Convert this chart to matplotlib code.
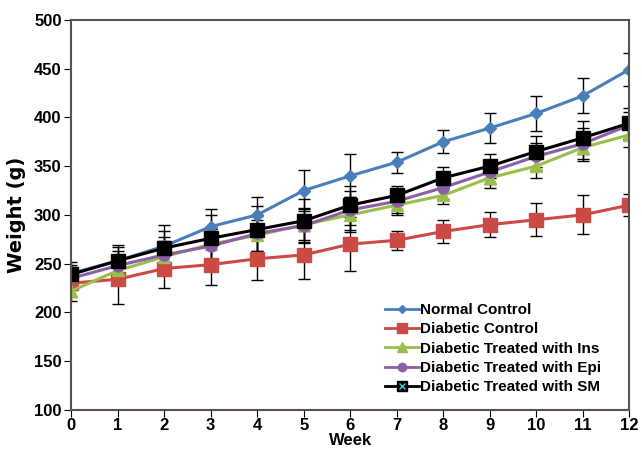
import numpy as np
import matplotlib
matplotlib.use('Agg')
import matplotlib.pyplot as plt
from matplotlib.lines import Line2D

plt.rcParams['font.family'] = ['Liberation Sans', 'DejaVu Sans']
plt.rcParams['font.weight'] = 'bold'

weeks = list(range(13))

normal = [240, 253, 268, 288, 300, 325, 340, 354, 375, 389, 404, 422, 449]
normal_sd = [12, 14, 16, 18, 18, 21, 22, 11, 12, 15, 18, 18, 17]

diabetic = [230, 234, 245, 249, 255, 259, 270, 274, 283, 290, 295, 300, 310]
diabetic_sd = [14, 25, 20, 21, 22, 25, 28, 10, 12, 13, 17, 20, 11]

ins = [222, 243, 257, 270, 279, 290, 300, 310, 320, 338, 350, 369, 382]
ins_sd = [10, 14, 16, 16, 16, 16, 18, 10, 9, 10, 12, 14, 12]

epi = [235, 248, 259, 268, 281, 289, 305, 314, 328, 344, 360, 373, 392]
epi_sd = [12, 15, 18, 18, 18, 18, 20, 12, 12, 12, 14, 16, 14]

sm = [239, 253, 266, 276, 285, 294, 310, 320, 338, 350, 365, 379, 394]
sm_sd = [10, 16, 24, 24, 24, 22, 20, 10, 11, 12, 16, 17, 16]

labels = ['Normal Control', 'Diabetic Control', 'Diabetic Treated with Ins',
          'Diabetic Treated with Epi', 'Diabetic Treated with SM']

colors = ['#4a7ebb', '#cc4a46', '#98bf4a', '#8a5fa8', 'black']
markers = ['D', 's', '^', 'o', 's']
sizes = [6, 10, 9, 8, 10]

fig = plt.figure(figsize=(6.42, 4.51), dpi=100)
ax = fig.add_axes([0.111, 0.091, 0.869, 0.865])

series = [normal, diabetic, ins, epi, sm]
sds = [normal_sd, diabetic_sd, ins_sd, epi_sd, sm_sd]
for vals, sd, c, m, s in zip(series, sds, colors, markers, sizes):
    ax.errorbar(weeks, vals, yerr=sd, color=c, lw=2.2, marker=m, ms=s,
                ecolor='black', elinewidth=1, capsize=4, capthick=1)
ax.plot(weeks, sm, ls='none', marker='x', ms=7, mew=1.2, color='#40c4d8')

ax.set_xlim(0, 12)
ax.set_ylim(100, 500)
ax.set_xticks(weeks)
ax.set_yticks(range(100, 501, 50))
ax.tick_params(axis='x', direction='out', length=5, labelsize=12, pad=1)
ax.tick_params(axis='y', direction='out', length=5, labelsize=12, pad=2)
for s in ax.spines.values():
    s.set_color('#5a5050')
    s.set_linewidth(1.5)

ax.set_xlabel('Week', fontsize=12, fontweight='bold', labelpad=0)
ax.set_ylabel('Weight (g)', fontsize=14, fontweight='bold', labelpad=6,
              family='DejaVu Sans')

handles = []
for c, m, s in zip(colors, markers, sizes):
    handles.append(Line2D([], [], color=c, lw=2, marker=m, ms=s * 0.75))
handles[-1] = (handles[-1], Line2D([], [], ls='none', marker='x', ms=5,
                                   color='#40c4d8'))
ax.legend(handles, labels, loc='lower right', bbox_to_anchor=(0.975, 0.005),
          frameon=False, fontsize=11, handlelength=2.2, handletextpad=0.1,
          labelspacing=0.35)

fig.savefig('out.png', dpi=100)
